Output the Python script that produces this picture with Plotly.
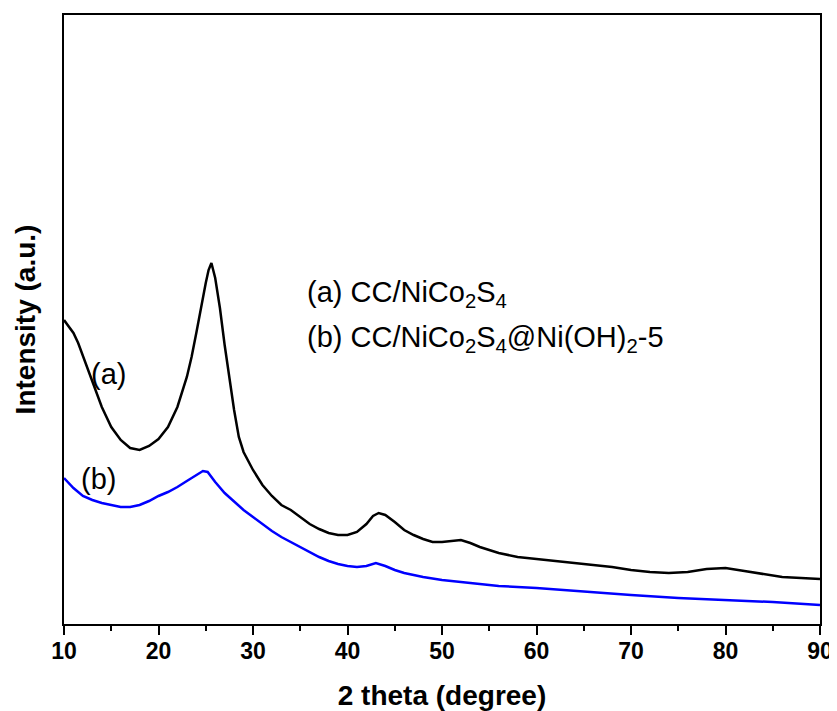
import plotly.graph_objects as go

# 2 theta (degree)
theta_a = [10, 10.5, 11, 11.5, 12, 12.5, 13, 13.5, 14, 15, 16, 17, 18, 19, 20, 21, 22, 23, 23.5, 24,
           24.5, 25, 25.3, 25.6, 26, 26.5, 27, 27.5, 28, 28.5, 29, 30, 31, 32, 33, 34, 35, 36, 37, 38,
           39, 40, 41, 42, 42.7, 43.3, 44, 45, 46, 47, 48, 49, 50, 51, 52, 53, 54, 56, 58, 60,
           62, 64, 66, 68, 70, 72, 74, 76, 78, 80, 82, 84, 86, 88, 90]
# intensity (a.u.) of (a) CC/NiCo2S4
int_a = [304, 298, 291, 281, 268, 254, 241, 228, 217, 197, 184, 176, 174, 178, 185, 197, 217, 247, 267, 291,
         317, 341, 354, 361, 346, 316, 279, 244, 214, 187, 172, 154, 139, 128, 119, 114, 107, 100, 95, 91,
         89, 89, 92, 100, 108, 111, 109, 102, 94, 89, 85, 82, 82, 83, 84, 81, 77, 71, 67, 65,
         63, 61, 59, 57, 54, 52, 51, 52, 55, 56, 53, 50, 47, 46, 45]

theta_b = [10, 11, 12, 13, 14, 15, 16, 17, 18, 19, 20, 21, 22, 23, 24, 24.7, 25.2, 26, 27, 28,
           29, 30, 31, 32, 33, 34, 35, 36, 37, 38, 39, 40, 41, 42, 43, 44, 45, 46, 47, 48,
           50, 53, 56, 60, 64, 67, 70, 75, 80, 85, 90]
# intensity (a.u.) of (b) CC/NiCo2S4@Ni(OH)2-5
int_b = [146, 136, 128, 124, 121, 119, 117, 117, 119, 123, 128, 132, 137, 143, 149, 153, 152, 142, 131, 122,
         114, 107, 100, 93, 87, 82, 77, 72, 67, 63, 60, 58, 57, 58, 61, 58, 54, 51, 49, 47,
         44, 41, 38, 36, 33, 31, 29, 26, 24, 22, 19]

x_ticks = [10, 20, 30, 40, 50, 60, 70, 80, 90]

FONT = "Liberation Sans, Arial, sans-serif"

fig = go.Figure()
fig.add_trace(go.Scatter(x=theta_a, y=int_a, mode="lines", line=dict(color="#000000", width=2.5),
                         name="(a) CC/NiCo2S4", showlegend=False))
fig.add_trace(go.Scatter(x=theta_b, y=int_b, mode="lines", line=dict(color="#0000ff", width=2.5),
                         name="(b) CC/NiCo2S4@Ni(OH)2-5", showlegend=False))

ann_font = dict(family=FONT, size=29, color="#000000")
fig.add_annotation(x=35.5, y=330, xref="x", yref="y", text="(a) CC/NiCo<sub>2</sub>S<sub>4</sub>",
                   showarrow=False, xanchor="left", yanchor="middle", font=ann_font)
fig.add_annotation(x=35.5, y=285, xref="x", yref="y", text="(b) CC/NiCo<sub>2</sub>S<sub>4</sub>@Ni(OH)<sub>2</sub>-5",
                   showarrow=False, xanchor="left", yanchor="middle", font=ann_font)
fig.add_annotation(x=14.7, y=250, xref="x", yref="y", text="(a)", showarrow=False,
                   xanchor="center", yanchor="middle", font=ann_font)
fig.add_annotation(x=13.6, y=145, xref="x", yref="y", text="(b)", showarrow=False,
                   xanchor="center", yanchor="middle", font=ann_font)

# the page body adds an 8px offset, so the figure is sized/margined to compensate
fig.update_layout(
    width=829, height=703,
    margin=dict(l=56, r=17, t=7, b=87),
    plot_bgcolor="white", paper_bgcolor="white",
    font=dict(family=FONT, color="#000000"),
    xaxis=dict(
        range=[10, 90], tickvals=x_ticks, ticktext=[str(v) for v in x_ticks],
        ticks="outside", ticklen=9, tickwidth=2, tickcolor="#000000",
        minor=dict(ticks="outside", ticklen=5, tickwidth=2, dtick=5, tick0=10, tickcolor="#000000", showgrid=False),
        showline=True, linewidth=2, linecolor="#000000", mirror=True,
        showgrid=False, zeroline=False, automargin=False,
        ticklabelstandoff=-4,
        tickfont=dict(family=FONT, size=23, color="#000000", weight="bold"),
        title=dict(text="2 theta (degree)", font=dict(family=FONT, size=28, color="#000000", weight="bold"), standoff=26),
    ),
    yaxis=dict(
        range=[0, 609], showticklabels=False, ticks="",
        showline=True, linewidth=2, linecolor="#000000", mirror=True,
        showgrid=False, zeroline=False, automargin=False,
        title=dict(text="Intensity (a.u.)", font=dict(family=FONT, size=28, color="#000000", weight="bold"), standoff=18),
    ),
)

fig.write_html("out.html")
